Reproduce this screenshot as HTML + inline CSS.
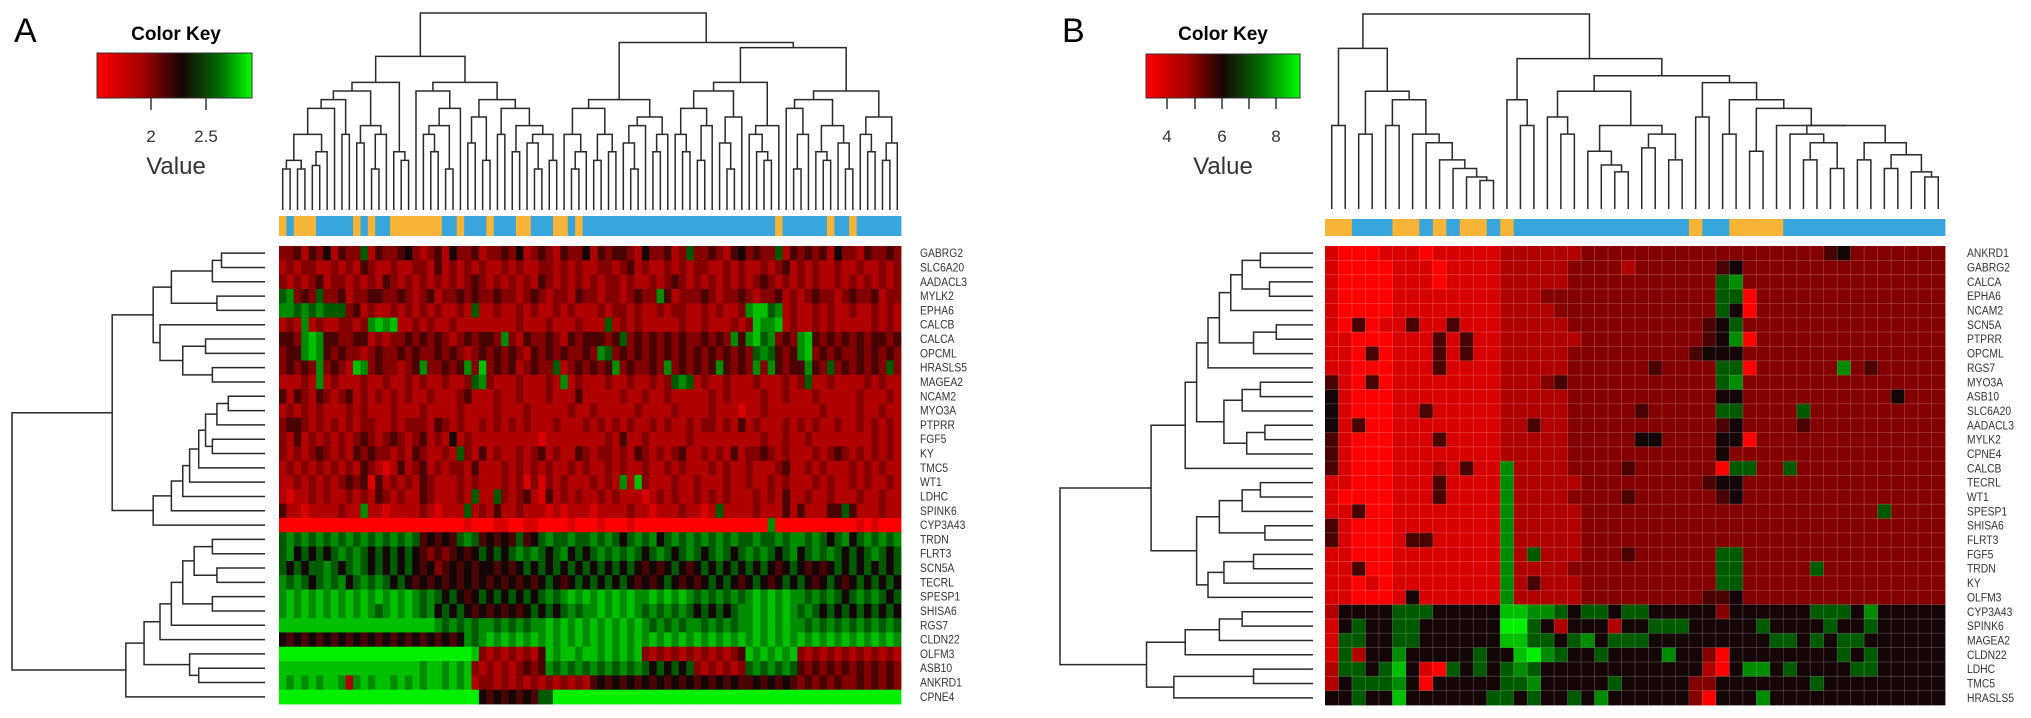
<!DOCTYPE html>
<html><head><meta charset="utf-8">
<style>
html,body{margin:0;padding:0;background:#fff;}
svg{display:block;font-family:"Liberation Sans",sans-serif;}
.gl{font-size:12px;fill:#333;}
</style></head>
<body>
<svg id="fig" width="2031" height="718" viewBox="0 0 2031 718" xmlns="http://www.w3.org/2000/svg">
<defs>
<linearGradient id="gA" x1="0" x2="1" y1="0" y2="0">
<stop offset="0" stop-color="#ff0000"/><stop offset="0.3" stop-color="#a00000"/><stop offset="0.55" stop-color="#150505"/><stop offset="0.8" stop-color="#007000"/><stop offset="1" stop-color="#00ff00"/>
</linearGradient>
<linearGradient id="gB" x1="0" x2="1" y1="0" y2="0">
<stop offset="0" stop-color="#ff0000"/><stop offset="0.28" stop-color="#a00000"/><stop offset="0.5" stop-color="#150505"/><stop offset="0.75" stop-color="#007000"/><stop offset="1" stop-color="#00ff00"/>
</linearGradient>
</defs>
<text x="14" y="42" font-size="34">A</text>
<text x="176" y="40" font-size="19" font-weight="bold" text-anchor="middle">Color Key</text>
<rect x="97" y="53" width="155" height="45" fill="url(#gA)" stroke="#333" stroke-width="1"/>
<line x1="151" y1="98" x2="151" y2="110" stroke="#333" stroke-width="1.5"/>
<line x1="206" y1="98" x2="206" y2="110" stroke="#333" stroke-width="1.5"/>
<text x="151" y="142" font-size="17" text-anchor="middle" fill="#333">2</text>
<text x="206" y="142" font-size="17" text-anchor="middle" fill="#333">2.5</text>
<text x="176" y="174" font-size="24" text-anchor="middle" fill="#333">Value</text>

<text x="1062" y="42" font-size="34">B</text>
<text x="1223" y="40" font-size="19" font-weight="bold" text-anchor="middle">Color Key</text>
<rect x="1146" y="54" width="154" height="44" fill="url(#gB)" stroke="#333" stroke-width="1"/>
<line x1="1167" y1="98" x2="1167" y2="109" stroke="#333" stroke-width="1.5"/>
<line x1="1195" y1="98" x2="1195" y2="109" stroke="#333" stroke-width="1.5"/>
<line x1="1222" y1="98" x2="1222" y2="109" stroke="#333" stroke-width="1.5"/>
<line x1="1249" y1="98" x2="1249" y2="109" stroke="#333" stroke-width="1.5"/>
<line x1="1276" y1="98" x2="1276" y2="109" stroke="#333" stroke-width="1.5"/>
<text x="1167" y="142" font-size="17" text-anchor="middle" fill="#333">4</text>
<text x="1222" y="142" font-size="17" text-anchor="middle" fill="#333">6</text>
<text x="1276" y="142" font-size="17" text-anchor="middle" fill="#333">8</text>
<text x="1223" y="174" font-size="24" text-anchor="middle" fill="#333">Value</text>
</svg>
<script>
const levelColors=["#ff0000","#d80000","#b00000","#840000","#4a0303","#140606","#005a00","#008c00","#00c000","#00f000"];
const genesA=["GABRG2","SLC6A20","AADACL3","MYLK2","EPHA6","CALCB","CALCA","OPCML","HRASLS5","MAGEA2","NCAM2","MYO3A","PTPRR","FGF5","KY","TMC5","WT1","LDHC","SPINK6","CYP3A43","TRDN","FLRT3","SCN5A","TECRL","SPESP1","SHISA6","RGS7","CLDN22","OLFM3","ASB10","ANKRD1","CPNE4"];
const valuesA=[
"3342435 2433624 3345323 4253342 3343523 4324335 2434432 5334236 3343245 3433624 3434253 3243343",
"2323322 3232432 2322332 4232323 2232322 3323232 2332342 3223232 3322323 2232342 3232232 2322323",
"3232342 3323232 4323232 3232343 2323232 4323232 3233232 2323432 3232323 2343232 3232232 3232323",
"6734363 3423344 3343234 2334343 3433234 3233243 3233234 3374233 3432334 3233423 2343323 4334233",
"7767676 6634232 2323232 3223262 2322323 2232322 2323323 2232332 2323223 7886723 2232322 3223232",
"2327232 2332378 7822323 2232222 2222322 2322232 2262323 2222232 2322232 3877823 2232322 2223232",
"4437874 4334423 2334343 4323434 4373243 3432434 4434634 3434343 3434374 7867343 7843434 3434434",
"3447874 3433234 3343433 4343234 3434324 3434334 3763434 3434343 4343434 3676434 7834343 3434343",
"3434373 4328734 3323473 3434738 3434234 3362343 4347343 3437343 4347434 3737434 4743634 3434363",
"2223272 3222322 3223232 2322367 3222322 2327232 2232232 2323676 2322322 2322232 3622322 2232322",
"4243243 2342323 2323223 2223422 2322322 2322242 2222322 3223222 2232322 2232232 2232222 2322232",
"2323232 2232322 2322232 2223222 2322232 2222322 3222223 2222322 2232221 2232222 2223222 2322322",
"3443232 3232332 2323332 4323223 2323232 2232223 2323232 2323223 2332324 2322232 3232232 2323232",
"3242323 2323432 3432342 3252322 2222222 1222222 2232422 3222223 2222222 2232232 2322222 2223232",
"3232343 2324343 3232432 2326324 2322323 4232243 2332324 3232342 2323242 3343232 2232343 2323232",
"2323232 3232432 1242342 3233242 2232323 2322323 2232322 3223232 2232322 3222342 2323222 3232322",
"2232323 2343414 2323243 2223232 2232313 1323222 3232728 3222322 3222322 3223232 2232322 3232232",
"2122323 2232324 3232243 2223262 2632342 1423232 2323222 1232322 3232322 2323242 2322322 2322322",
"4221222 2322722 1222232 1222623 2422322 2121222 1222232 2122232 2126222 2322242 4222446 4222322",
"0000000 0000000 0000000 0000100 0110011 0000100 0100010 0000000 0000000 0007000 0000000 0101000",
"6767676 7676767 6767645 4546764 5454645 6766766 7676567 6756767 6767676 6766767 7676567 5676767",
"6756565 6767656 5656543 4345456 5656767 6567565 6767676 5676567 6567656 7676567 5676765 6567656",
"6565667 6567656 5656545 3454545 5454565 6565656 5656565 4545654 5656565 6565456 5454565 6565656",
"7676567 6756767 6565454 5454545 4545454 5654565 6565654 5456545 4565654 5654565 6545654 5656565",
"7878787 8787878 7878767 6565456 5656565 6767878 7878787 7878787 6767676 7878787 7676765 6767656",
"7878787 8787876 7878767 5656545 4545456 5656767 7878787 6767676 5656567 7878787 6765656 5656565",
"8888888 8888888 8888888 7676767 7676767 7878787 8787878 7676767 7676767 7878787 7676767 6767676",
"5454545 4545454 5454545 4545767 8787878 7878787 8787878 7878787 8787878 7878787 8787878 7878787",
"9999999 9999999 9999999 9999983 2323232 4878878 8787878 3232323 2323234 8787878 3232323 2323232",
"8888888 8888888 8888878 8787832 3232343 4767676 7676767 6565656 3232323 6767676 4343434 3434343",
"8787878 8727878 8787878 8787823 3232323 2323232 4545454 5454545 4545454 4545454 3434343 3434343",
"9999999 9999999 9999999 9999995 4545454 6699999 9999999 9999999 9999999 9999999 9999999 9999999"];
const groupsA="obooobbbbb"+"obobbooooo"+"oobbobbbob"+"bboobbboob"+"obbbbbbbbb"+"bbbbbbbbbb"+"bbbbbbbobb"+"bbbbobbobb"+"bbbb";
const colGapsA=[0.1,0.15,0.1,0.3,0.12,0.2,0.45,0.5,0.3,0.55,0.25,0.35,0.1,0.3,0.6,0.2,0.15,0.75,
0.55,0.3,0.2,0.35,0.1,0.45,0.6,0.25,0.4,0.15,0.5,0.3,0.45,0.2,0.35,0.25,0.1,0.3,0.15,1.0,
0.3,0.1,0.2,0.45,0.15,0.3,0.2,0.5,0.25,0.1,0.35,0.4,0.2,0.3,0.83,
0.3,0.2,0.45,0.15,0.35,0.55,0.25,0.1,0.4,0.6,0.3,0.2,0.15,0.35,0.8,0.45,0.1,0.3,0.5,0.2,0.15,0.35,0.25,0.1,0.55,0.3,0.2,0.4,0.15,0.25];
const rowGapsA=[0.08,0.12,0.3,0.1,0.38,0.35,0.15,0.25,0.12,0.56,0.05,0.1,0.15,0.12,0.18,0.22,0.25,0.3,0.38,1.0,0.12,0.2,0.1,0.25,0.12,0.3,0.35,0.42,0.22,0.18,0.5];

const genesB=["ANKRD1","GABRG2","CALCA","EPHA6","NCAM2","SCN5A","PTPRR","OPCML","RGS7","MYO3A","ASB10","SLC6A20","AADACL3","MYLK2","CPNE4","CALCB","TECRL","WT1","SPESP1","SHISA6","FLRT3","FGF5","TRDN","KY","OLFM3","CYP3A43","SPINK6","MAGEA2","CLDN22","LDHC","TMC5","HRASLS5"];
const valuesB=[
"1000111011 1112222223 3333333333 3333333453 333333",
"1000011101 1112222233 3323333334 5333333333 333333",
"1000011101 1112222233 3333333336 7333333333 333333",
"1000011111 1112223333 3333333336 6033333333 333333",
"1000011111 1112222333 3333333336 5033333333 333333",
"1040114114 1112222233 3333333345 6333333333 333333",
"1100011141 4112222223 3333333345 7033333333 333333",
"1104011141 4112222233 3333333455 5333333333 333333",
"1100011141 1112222233 3333433336 6033333373 433333",
"4104011111 1112223433 3333333336 7333333333 333333",
"5100011111 1112222233 3333333335 5333333333 335333",
"5100011411 1112222233 3334333336 6333363333 333333",
"5140011111 1112242233 3333333334 5333343333 333333",
"4100011141 1112222233 3335533335 5033333333 333333",
"4100011111 1112222233 3333333335 3333333333 333333",
"4100011121 4117222233 3343333330 6633633333 333333",
"1100011141 1117222223 3333333345 5333333333 333333",
"1000011141 1117222233 3343333334 5333333333 333333",
"1140011111 1117222223 3333333333 3333333333 363333",
"4100011111 1117222223 3333333333 3333333333 333333",
"4100014411 1117222223 3333333333 3333333333 333333",
"1100011111 1117262223 3343333336 6333333333 333333",
"1140011111 1117222233 3333333336 6333336333 333333",
"1101011111 1117242223 3333333336 6333333333 333333",
"1100015111 1117222223 3333333344 5333333333 333333",
"2555566655 5558877656 6566555553 5555556665 755555",
"1565566555 5559965255 5255666555 5565555655 655555",
"1665566555 5558866567 5666555555 5556656566 555555",
"1625575555 5655897655 6555575530 5555555565 655555",
"2665685106 5656765555 5555555520 5775655556 655555",
"2566675055 5556675555 5655555335 5555556555 555555",
"5565585555 5566565565 7555555305 5575555555 555555"];
const groupsB="oobbbooboboobo"+"bbbbbbbbbbbbb"+"o"+"bb"+"oooo"+"bbbbbbbbbbbb";
const colGapsB=[0.35,0.8,0.3,0.55,0.35,0.5,0.3,0.25,0.15,0.1,0.05,0.03,1.0,
0.5,0.35,0.74,0.4,0.3,0.55,0.2,0.12,0.08,0.35,0.22,0.3,0.15,0.64,0.4,0.6,0.3,0.5,0.2,0.45,0.35,0.3,0.15,0.25,0.1,0.35,0.15,0.25,0.1,0.18,0.08,0.05];
const rowGapsB=[0.12,0.2,0.08,0.25,0.3,0.05,0.15,0.35,0.4,0.12,0.2,0.28,0.1,0.18,0.45,0.6,0.12,0.2,0.3,0.1,0.4,0.15,0.28,0.35,1.0,0.2,0.3,0.45,0.62,0.15,0.5];

const NS="http://www.w3.org/2000/svg";
const svg=document.getElementById('fig');
function mk(tag,attrs,parent){const e=document.createElementNS(NS,tag);for(const k in attrs)e.setAttribute(k,attrs[k]);(parent||svg).appendChild(e);return e;}

function drawPanel(p){
  const rows=p.values.map(s=>s.replace(/ /g,''));
  const nR=rows.length,nC=rows[0].length;
  const cw=(p.x1-p.x0)/nC, rh=(p.y1-p.y0)/nR;
  const colX=i=>p.x0+(i+0.5)*cw;
  const rowY=j=>p.y0+(j+0.5)*rh;
  const g=mk('g',{});
  
  
  for(let j=0;j<nR;j++){for(let i=0;i<nC;i++){
    const lv=+rows[j][i]||0;
    const r=mk('rect',{x:(p.x0+i*cw).toFixed(2),y:(p.y0+j*rh).toFixed(2),width:(cw+0.4).toFixed(2),height:(rh+0.4).toFixed(2),fill:levelColors[lv]},g);
    
    
  }}
  if(p.grid){
    for(let i=1;i<nC;i++)mk('line',{x1:p.x0+i*cw,x2:p.x0+i*cw,y1:p.y0,y2:p.y1,stroke:'rgba(255,255,255,0.22)','stroke-width':0.8},g);
    for(let j=1;j<nR;j++)mk('line',{x1:p.x0,x2:p.x1,y1:p.y0+j*rh,y2:p.y0+j*rh,stroke:'rgba(255,255,255,0.22)','stroke-width':0.8},g);
  }
  const cb=mk('g',{});
  
  
  for(let i=0;i<nC;i++){
    const c=mk('rect',{x:(p.x0+i*cw).toFixed(2),y:p.barY0,width:(cw+0.4).toFixed(2),height:p.barY1-p.barY0,fill:p.groups[i]==='o'?'#f7b436':'#38a5dc'},cb);
    
    
  }
  for(let j=0;j<nR;j++){
    const t=mk('text',{x:p.labelX,y:(rowY(j)+4).toFixed(1),class:'gl',transform:`translate(${p.labelX},0) scale(0.86,1) translate(${-p.labelX},0)`});
    t.textContent=p.genes[j];
    
    
  }
  const st={stroke:'#2a2a2a','stroke-width':1.5,fill:'none'};
  const dt=mk('g',st);
  
  
  const topY=h=>h===0?p.dBase:p.dBase-(0.12+0.88*h)*(p.dBase-p.dTop);
  function buildTop(lo,hi){
    if(lo===hi)return{x:colX(lo),h:0};
    let k=lo;for(let i=lo;i<hi;i++)if(p.colGaps[i]>p.colGaps[k])k=i;
    const L=buildTop(lo,k),R=buildTop(k+1,hi),h=p.colGaps[k],y=topY(h);
    mk('path',{d:`M${L.x},${topY(L.h)}V${y}H${R.x}V${topY(R.h)}`},dt);
    return{x:(L.x+R.x)/2,h};
  }
  buildTop(0,nC-1);
  const dl=mk('g',st);
  
  
  const leftX=h=>h===0?p.lLeaf:p.lLeaf-(0.1+0.9*h)*(p.lLeaf-p.lRoot);
  function buildLeft(lo,hi){
    if(lo===hi)return{y:rowY(lo),h:0};
    let k=lo;for(let i=lo;i<hi;i++)if(p.rowGaps[i]>p.rowGaps[k])k=i;
    const T=buildLeft(lo,k),B=buildLeft(k+1,hi),h=p.rowGaps[k],x=leftX(h);
    mk('path',{d:`M${leftX(T.h)},${T.y}H${x}V${B.y}H${leftX(B.h)}`},dl);
    return{y:(T.y+B.y)/2,h};
  }
  buildLeft(0,nR-1);
}
drawPanel({name:'panel-a',values:valuesA,genes:genesA,groups:groupsA,colGaps:colGapsA,rowGaps:rowGapsA,
  x0:279,x1:901,y0:246,y1:704,barY0:216,barY1:236,labelX:920,dBase:210,dTop:13,lRoot:12,lLeaf:265,grid:false});
drawPanel({name:'panel-b',values:valuesB,genes:genesB,groups:groupsB,colGaps:colGapsB,rowGaps:rowGapsB,
  x0:1325,x1:1945,y0:246,y1:705,barY0:219,barY1:236,labelX:1967,dBase:209,dTop:14,lRoot:1060,lLeaf:1313,grid:true});
</script>
</body></html>
